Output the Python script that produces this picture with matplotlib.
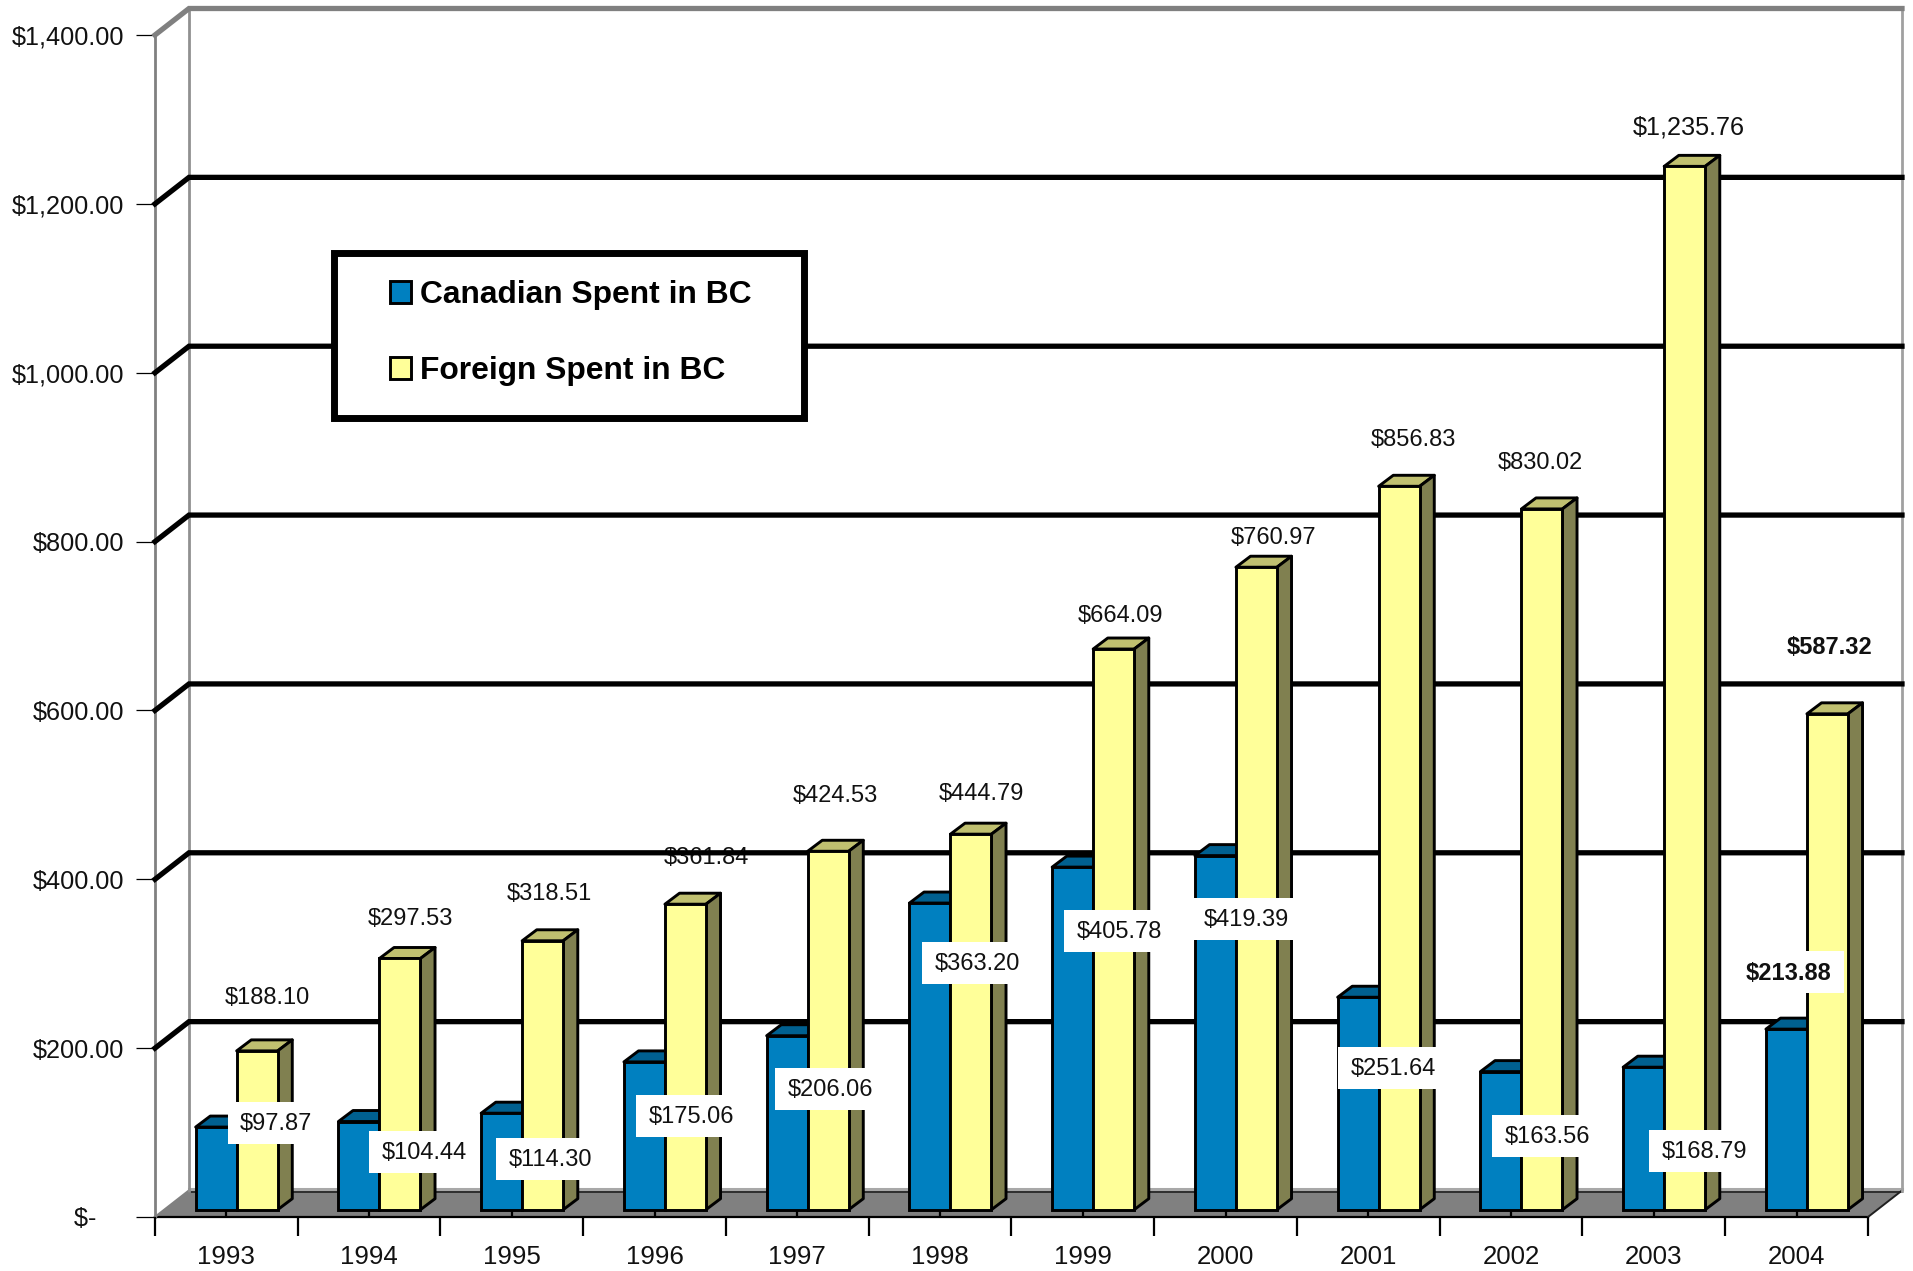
import matplotlib

matplotlib.use("Agg")
import matplotlib.pyplot as plt
from matplotlib.patches import Polygon, Rectangle
from matplotlib.transforms import Affine2D, IdentityTransform

plt.rcParams["font.family"] = ["Liberation Sans", "DejaVu Sans"]

years = ["1993", "1994", "1995", "1996", "1997", "1998", "1999", "2000", "2001", "2002", "2003", "2004"]
canadian = [97.87, 104.44, 114.30, 175.06, 206.06, 363.20, 405.78, 419.39, 251.64, 163.56, 168.79, 213.88]
foreign = [188.10, 297.53, 318.51, 361.84, 424.53, 444.79, 664.09, 760.97, 856.83, 830.02, 1235.76, 587.32]
y_ticks = [0, 200, 400, 600, 800, 1000, 1200, 1400]
y_tick_labels = ["$-    ", "$200.00", "$400.00", "$600.00", "$800.00", "$1,000.00", "$1,200.00", "$1,400.00"]

# hand placed label centres, in image pixels
canadian_label_xy = [(276, 1124), (424, 1153), (550, 1160), (691, 1117), (830, 1090), (977, 964),
                     (1119, 932), (1246, 920), (1393, 1069), (1547, 1137), (1704, 1152), (1789, 973)]
foreign_label_xy = [(267, 998), (410, 919), (549, 894), (706, 858), (835, 796), (981, 794),
                    (1120, 616), (1274, 538), (1413, 440), (1540, 463), (1689, 127), (1830, 648)]

W, H = 1913, 1271
LEFT, RIGHT, TOP, BOTTOM = 155, 1868, 35, 1217
PX_X = (RIGHT - LEFT) / 12
PX_Y = (BOTTOM - TOP) / 1400

BLUE, BLUE_TOP, BLUE_SIDE = "#0080C0", "#006090", "#006090"
YELLOW, YELLOW_TOP, YELLOW_SIDE = "#FFFF99", "#C0C070", "#808050"

# depth of the walls and of the bars, converted to data units
wall_dx, wall_dy = 34 / PX_X, 26.5 / PX_Y
bar_dx, bar_dy = 14.6 / PX_X, 11 / PX_Y
bar_shift = 10.3 / PX_X
bar_base = 7.3 / PX_Y
bar_w = 41 / PX_X

fig = plt.figure(figsize=(W / 100, H / 100), dpi=100)
ax = fig.add_axes([LEFT / W, (H - BOTTOM) / H, (RIGHT - LEFT) / W, (BOTTOM - TOP) / H])
ax.set_xlim(0, 12)
ax.set_ylim(0, 1400)
ax.patch.set_visible(False)
for spine in ax.spines.values():
    spine.set_visible(False)

px = Affine2D().scale(1, -1).translate(0, H)

# floor
ax.add_patch(Polygon([(0, 0), (12, 0), (12 + wall_dx, wall_dy), (wall_dx, wall_dy)], closed=True,
                     facecolor="#808080", edgecolor="none", clip_on=False, zorder=1))
ax.plot([wall_dx, 12 + wall_dx], [wall_dy + 2, wall_dy + 2], color="#A8A8A8", lw=2.2, clip_on=False, zorder=1.1)
ax.plot([wall_dx, 12 + wall_dx], [wall_dy - 2, wall_dy - 2], color="#202020", lw=1.2, clip_on=False, zorder=1.1)
ax.plot([0, 12], [0, 0], color="black", lw=1.6, clip_on=False, zorder=1.2)
ax.plot([12, 12 + wall_dx], [0, wall_dy], color="#202020", lw=1.4, clip_on=False, zorder=1.2)
ax.plot([0, wall_dx], [0, wall_dy], color="#808080", lw=1.6, clip_on=False, zorder=1.2)

# walls and gridlines
ax.plot([0, 0], [0, 1400], color="#808080", lw=2, clip_on=False, zorder=1.3)
ax.plot([wall_dx, wall_dx], [wall_dy, 1400 + wall_dy], color="#909090", lw=2, clip_on=False, zorder=1.3)
ax.plot([12 + wall_dx, 12 + wall_dx], [wall_dy, 1400 + wall_dy], color="#A0A0A0", lw=2, clip_on=False, zorder=1.3)
for val in y_ticks[1:]:
    color = "#808080" if val == 1400 else "black"
    ax.plot([0, wall_dx, 12 + wall_dx], [val, val + wall_dy, val + wall_dy], color=color, lw=3.8,
            solid_joinstyle="miter", clip_on=False, zorder=3)

# bars
lefts_c = [i + 0.5 + bar_shift - bar_w for i in range(12)]
lefts_f = [i + 0.5 + bar_shift for i in range(12)]
for lefts, values, face, top, side, label, z in [
    (lefts_c, canadian, BLUE, BLUE_TOP, BLUE_SIDE, "Canadian Spent in BC", 3.2),
    (lefts_f, foreign, YELLOW, YELLOW_TOP, YELLOW_SIDE, "Foreign Spent in BC", 3.4),
]:
    ax.bar(lefts, values, width=bar_w, bottom=bar_base, align="edge", color=face, edgecolor="black",
           linewidth=2.1, label=label, zorder=z + 0.1, clip_on=False)
    for x0, val in zip(lefts, values):
        y1 = bar_base + val
        ax.add_patch(Polygon([(x0, y1), (x0 + bar_w, y1), (x0 + bar_w + bar_dx, y1 + bar_dy), (x0 + bar_dx, y1 + bar_dy)],
                             closed=True, facecolor=top, edgecolor="black", lw=2.1, joinstyle="round",
                             clip_on=False, zorder=z))
        xr = x0 + bar_w
        ax.add_patch(Polygon([(xr, bar_base), (xr + bar_dx, bar_base + bar_dy), (xr + bar_dx, y1 + bar_dy), (xr, y1)],
                             closed=True, facecolor=side, edgecolor="black", lw=2.1, joinstyle="round",
                             clip_on=False, zorder=z))

# axis ticks
ax.set_yticks(y_ticks)
ax.set_yticklabels(y_tick_labels)
ax.tick_params(axis="y", length=13.7, width=0.9, pad=8.3, labelsize=18.2, labelcolor="#111111")
ax.set_xticks(range(13))
ax.set_xticklabels([])
ax.set_xticks([i + 0.5 for i in range(12)], minor=True)
ax.set_xticklabels(years, minor=True)
ax.tick_params(axis="x", which="major", length=13.7, width=1.6)
ax.tick_params(axis="x", which="minor", direction="in", length=10, width=1.6, pad=20.5, labelsize=18.6,
               labelcolor="#111111")
ax.set_axisbelow(False)

# data labels
renderer = fig.canvas.get_renderer()
for i, val in enumerate(foreign):
    weight = "bold" if years[i] == "2004" else "normal"
    size = 18.2 if val > 1000 else 17.0
    ax.text(*foreign_label_xy[i], f"${val:,.2f}", transform=px, ha="center", va="center", fontsize=size,
            fontweight=weight, color="#111111", zorder=2.5, clip_on=False)
for i, val in enumerate(canadian):
    weight = "bold" if years[i] == "2004" else "normal"
    t = ax.text(*canadian_label_xy[i], f"${val:,.2f}", transform=px, ha="center", va="center", fontsize=17.0,
                fontweight=weight, color="#111111", zorder=6, clip_on=False)
    ext = t.get_window_extent(renderer)
    cx, cy = canadian_label_xy[i]
    ax.add_patch(Rectangle((cx - ext.width / 2 - 12, cy - 22), ext.width + 24, 42, transform=px,
                           facecolor="white", edgecolor="none", clip_on=False, zorder=5))

# legend box has more room at the sides than on top, so the frame is drawn apart
ax.add_patch(Rectangle((334, 252.5), 470, 165.5, transform=px, facecolor="white", edgecolor="black", lw=5,
                       joinstyle="miter", clip_on=False, zorder=4.4))
leg = ax.legend(loc="upper left", bbox_to_anchor=(390, H - 280), bbox_transform=IdentityTransform(), frameon=False,
                prop={"size": 22.9, "weight": "bold"}, handlelength=0.66, handleheight=0.66, handletextpad=0.27,
                labelspacing=1.45, borderpad=0, borderaxespad=0)
leg.set_zorder(4.5)

fig.savefig("out.png", dpi=100)
